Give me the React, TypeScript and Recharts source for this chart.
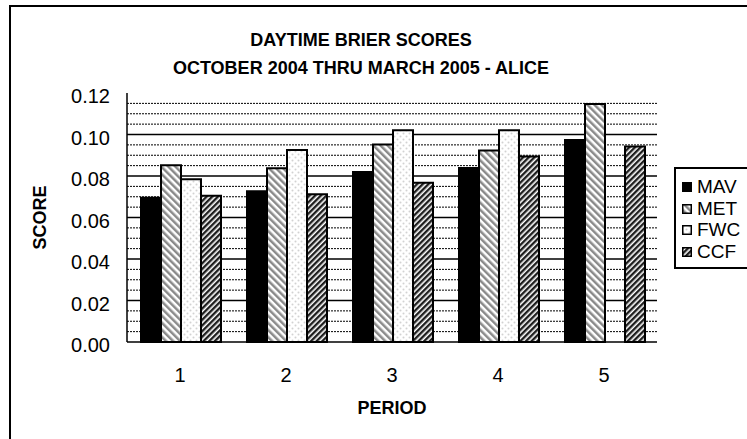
import React from 'react';
import { BarChart, Bar, XAxis, YAxis, CartesianGrid, Label } from 'recharts';

const periods = ['1', '2', '3', '4', '5'];
const mavScores = [0.0695, 0.0727, 0.0819, 0.0838, 0.0973];
const metScores = [0.0852, 0.0837, 0.0952, 0.0923, 0.1147];
const fwcScores: (number | null)[] = [0.0784, 0.0925, 0.1021, 0.1021, null];
const ccfScores = [0.0705, 0.0712, 0.0767, 0.0894, 0.0942];
const seriesNames = ['MAV', 'MET', 'FWC', 'CCF'];
const yTicks = [0, 0.02, 0.04, 0.06, 0.08, 0.1, 0.12];
const majorGrid = [0.02, 0.04, 0.06, 0.08, 0.1];
const minorGrid = [0.005, 0.01, 0.015, 0.025, 0.03, 0.035, 0.045, 0.05, 0.055, 0.065, 0.07, 0.075, 0.085, 0.09, 0.095, 0.105, 0.11, 0.115];
const titleLines = ['DAYTIME BRIER SCORES', 'OCTOBER 2004 THRU MARCH 2005 - ALICE'];

const data = periods.map((p, i) => ({
  period: p,
  MAV: mavScores[i],
  MET: metScores[i],
  FWC: fwcScores[i],
  CCF: ccfScores[i],
}));

const FONT = '"Liberation Sans", Arial, sans-serif';
const fills: Record<string, string> = {
  MAV: '#000000',
  MET: 'url(#patMET)',
  FWC: 'url(#patFWC)',
  CCF: 'url(#patCCF)',
};

const YTick = (props: any) => {
  const { x, y, payload } = props;
  return (
    <text x={x} y={y} dy={10} textAnchor="end" fontFamily={FONT} fontSize={20} fill="#000">
      {Number(payload.value).toFixed(2)}
    </text>
  );
};

const XTick = (props: any) => {
  const { x, y, payload } = props;
  return (
    <text x={x} y={y} dy={40} textAnchor="middle" fontFamily={FONT} fontSize={20} fill="#000">
      {payload.value}
    </text>
  );
};

export default function App() {
  return (
    <div style={{ position: 'absolute', left: 0, top: 0, width: 747, height: 439, overflow: 'hidden', background: '#fff' }}>
      <svg width={0} height={0} style={{ position: 'absolute' }}>
        <defs>
          <pattern id="patMET" patternUnits="userSpaceOnUse" width={5} height={5} patternTransform="rotate(-45)">
            <rect width={5} height={5} fill="#ffffff" />
            <rect width={2.5} height={5} fill="#8a8a8a" />
          </pattern>
          <pattern id="patCCF" patternUnits="userSpaceOnUse" width={4} height={4} patternTransform="rotate(45)">
            <rect width={4} height={4} fill="#ffffff" />
            <rect width={2.4} height={4} fill="#1e1e1e" />
          </pattern>
          <pattern id="patFWC" patternUnits="userSpaceOnUse" width={6} height={6}>
            <rect width={6} height={6} fill="#ffffff" />
            <circle cx={1.5} cy={1.5} r={1} fill="#d2d2d2" />
            <circle cx={4.5} cy={4.5} r={1} fill="#d2d2d2" />
          </pattern>
        </defs>
      </svg>
      <div style={{ position: 'absolute', left: 9, top: 5, width: 900, height: 600, border: '2px solid #000', boxSizing: 'border-box' }} />
      {titleLines.map((t, i) => (
        <div key={t} style={{ position: 'absolute', left: 0, width: 722, top: 30 + i * 28, lineHeight: '20px', textAlign: 'center', fontFamily: FONT, fontWeight: 'bold', fontSize: 18, color: '#000', whiteSpace: 'nowrap' }}>
          {t}
        </div>
      ))}
      <div style={{ position: 'absolute', left: 0, top: 0 }}>
        <BarChart width={747} height={439} data={data} margin={{ top: 93, right: 90, bottom: 0, left: 0 }} barCategoryGap={14} barGap={0}>
          <CartesianGrid vertical={false} horizontalValues={minorGrid} stroke="#000" strokeDasharray="2 1" strokeWidth={1} />
          <CartesianGrid vertical={false} horizontalValues={majorGrid} stroke="#000" strokeWidth={1.5} />
          <XAxis dataKey="period" height={97} tickSize={0} tickMargin={0} tickLine={false} axisLine={{ stroke: '#000', strokeWidth: 1.5 }} tick={<XTick />} interval={0}>
            <Label
              content={(p: any) => {
                const vb = p.viewBox || { x: 127, y: 342, width: 530 };
                return (
                  <text x={vb.x + vb.width / 2} y={vb.y + 72} textAnchor="middle" fontFamily={FONT} fontWeight="bold" fontSize={18} fill="#000">
                    PERIOD
                  </text>
                );
              }}
            />
          </XAxis>
          <XAxis xAxisId="top" orientation="top" dataKey="period" height={0} tick={false} tickLine={false} axisLine={{ stroke: '#808080', strokeWidth: 1.5 }} />
          <YAxis width={127} domain={[0, 0.12]} ticks={yTicks} tickSize={0} tickMargin={17} tickLine={false} axisLine={{ stroke: '#000', strokeWidth: 1.5 }} tick={<YTick />} interval={0}>
            <Label
              content={(p: any) => {
                const vb = p.viewBox || { x: 0, y: 93, width: 127, height: 249 };
                const cy = vb.y + vb.height / 2;
                return (
                  <text x={40} y={cy} transform={`rotate(-90, 40, ${cy})`} textAnchor="middle" dominantBaseline="central" fontFamily={FONT} fontWeight="bold" fontSize={18} fill="#000">
                    SCORE
                  </text>
                );
              }}
            />
          </YAxis>
          <YAxis yAxisId="right" orientation="right" width={0} domain={[0, 0.12]} ticks={yTicks} tick={false} tickLine={false} axisLine={{ stroke: '#808080', strokeWidth: 1.5 }} />
          {seriesNames.map((name) => (
            <Bar key={name} dataKey={name} fill={fills[name]} stroke="#000" strokeWidth={2} isAnimationActive={false} />
          ))}
        </BarChart>
      </div>
      <div style={{ position: 'absolute', left: 674, top: 167, width: 100, height: 102, border: '2px solid #000', boxSizing: 'border-box', background: '#fff' }}>
        {seriesNames.map((name, i) => (
          <div key={name} style={{ position: 'absolute', left: 6, top: 8 + i * 21.5, height: 20, display: 'flex', alignItems: 'center', whiteSpace: 'nowrap' }}>
            <svg width={10} height={10} style={{ display: 'block' }}>
              <rect x={0.75} y={0.75} width={8.5} height={8.5} fill={fills[name]} stroke="#000" strokeWidth={1.5} />
            </svg>
            <span style={{ marginLeft: 5, fontFamily: FONT, fontSize: 19, color: '#000', lineHeight: '20px' }}>{name}</span>
          </div>
        ))}
      </div>
    </div>
  );
}
